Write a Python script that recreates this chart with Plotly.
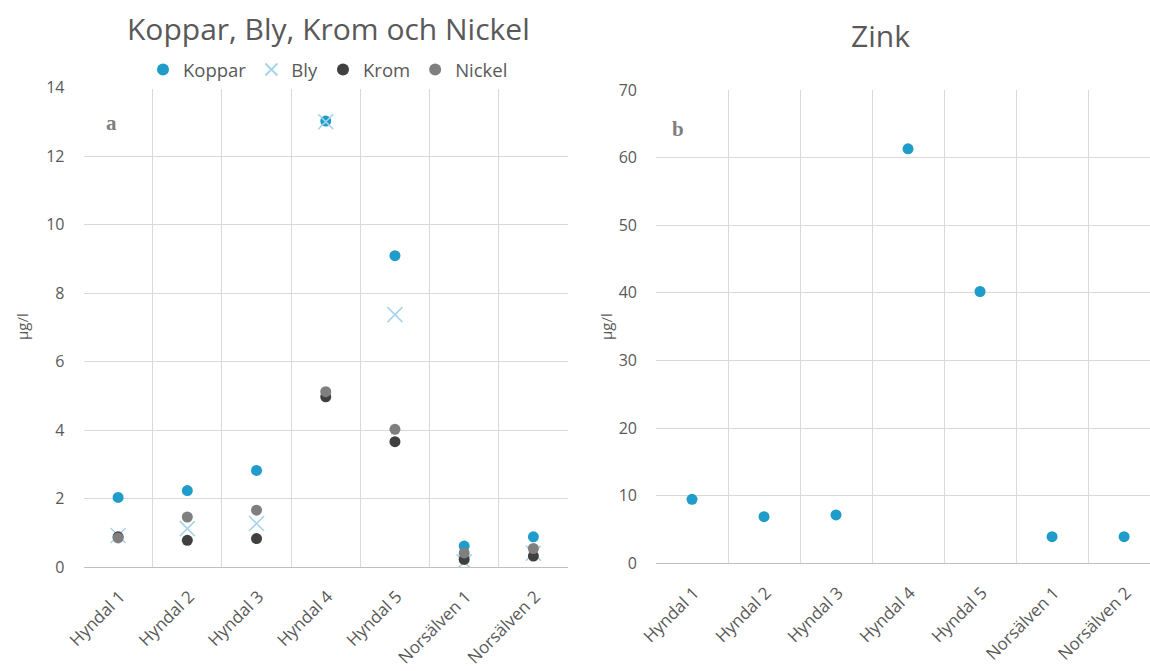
import plotly.graph_objects as go

# Sampling sites
sites = ["Hyndal 1", "Hyndal 2", "Hyndal 3", "Hyndal 4", "Hyndal 5", "Norsälven 1", "Norsälven 2"]

# Metal concentrations, µg/l
koppar = [2.03, 2.23, 2.82, 13.02, 9.09, 0.61, 0.88]
bly = [0.92, 1.12, 1.27, 13.0, 7.37, 0.15, 0.40]
krom = [0.88, 0.78, 0.83, 4.97, 3.66, 0.22, 0.32]
nickel = [0.85, 1.46, 1.66, 5.12, 4.02, 0.41, 0.54]
zink = [9.46, 6.9, 7.15, 61.3, 40.2, 3.94, 3.94]

left_ticks = [0, 2, 4, 6, 8, 10, 12, 14]
right_ticks = [0, 10, 20, 30, 40, 50, 60, 70]

C_KOPPAR = "#1f9cc9"
C_BLY = "#a8d4ea"
C_KROM = "#404040"
C_NICKEL = "#7f7f7f"
TXT = "#595959"
GRID = "#d9d9d9"
FONT = "Open Sans"
W, H = 1150, 671
DOT = 11

fig = go.Figure()

fig.add_trace(go.Scatter(x=sites, y=koppar, mode="markers", name="Koppar",
                         marker=dict(symbol="circle", size=DOT, color=C_KOPPAR),
                         xaxis="x", yaxis="y"))
fig.add_trace(go.Scatter(x=sites, y=bly, mode="markers", name="Bly",
                         marker=dict(symbol="x-thin", size=15, color=C_BLY,
                                     line=dict(color=C_BLY, width=1.6)),
                         xaxis="x", yaxis="y"))
fig.add_trace(go.Scatter(x=sites, y=krom, mode="markers", name="Krom",
                         marker=dict(symbol="circle", size=DOT, color=C_KROM),
                         xaxis="x", yaxis="y"))
fig.add_trace(go.Scatter(x=sites, y=nickel, mode="markers", name="Nickel",
                         marker=dict(symbol="circle", size=DOT, color=C_NICKEL),
                         xaxis="x", yaxis="y"))
fig.add_trace(go.Scatter(x=sites, y=zink, mode="markers", name="Zink",
                         marker=dict(symbol="circle", size=DOT, color=C_KOPPAR),
                         xaxis="x2", yaxis="y2", showlegend=False))

xcommon = dict(type="category", tickson="boundaries", showgrid=True, gridcolor=GRID,
               gridwidth=1, tickangle=-45, ticks="", showline=True, linecolor="#bfbfbf",
               automargin=False, ticklabelstandoff=12, ticklabelshift=2,
               tickfont=dict(family=FONT, size=17, color=TXT), fixedrange=True)
ycommon = dict(showgrid=True, gridcolor=GRID, gridwidth=1, zeroline=False, ticks="",
               showline=False, ticklabelstandoff=18, automargin=False,
               tickfont=dict(family=FONT, size=16, color=TXT))


def px_x(p):
    return p / W


def px_y(p):
    return 1 - p / H


fig.update_layout(
    width=W, height=H,
    margin=dict(l=0, r=0, t=0, b=0, autoexpand=False),
    paper_bgcolor="white", plot_bgcolor="white",
    showlegend=True,
    legend=dict(orientation="h", x=px_x(328), xanchor="center", y=px_y(70), yanchor="middle",
                font=dict(family=FONT, size=18.5, color=TXT), itemwidth=30,
                tracegroupgap=0, itemsizing="constant"),
    xaxis=dict(domain=[px_x(83.5), px_x(568)], anchor="y", range=[-0.5, 6.5], **xcommon),
    yaxis=dict(domain=[px_y(567), px_y(87.5)], anchor="x", range=[0, 14],
               tickvals=left_ticks, **ycommon),
    xaxis2=dict(domain=[px_x(656), 1.0], anchor="y2", range=[-0.5, 6.36], **xcommon),
    yaxis2=dict(domain=[px_y(563.3), px_y(90)], anchor="x2", range=[0, 70],
                tickvals=right_ticks, **ycommon),
    annotations=[
        dict(text="Koppar, Bly, Krom och Nickel", x=px_x(328), y=px_y(29),
             xref="paper", yref="paper", xanchor="center", yanchor="middle",
             showarrow=False, font=dict(family=FONT, size=30, color=TXT)),
        dict(text="Zink", x=px_x(880), y=px_y(36), xref="paper", yref="paper",
             xanchor="center", yanchor="middle",
             showarrow=False, font=dict(family=FONT, size=30, color=TXT)),
        # axis titles, rotated
        dict(text="µg/l", x=px_x(22), y=px_y(327), xref="paper", yref="paper",
             xanchor="center", yanchor="middle", textangle=-90, showarrow=False,
             font=dict(family=FONT, size=15, color=TXT)),
        dict(text="µg/l", x=px_x(606), y=px_y(327), xref="paper", yref="paper",
             xanchor="center", yanchor="middle", textangle=-90, showarrow=False,
             font=dict(family=FONT, size=15, color=TXT)),
        # panel letters
        dict(text="<b>a</b>", x=-0.09, y=12.97, xref="x", yref="y",
             xanchor="center", yanchor="middle", showarrow=False,
             font=dict(family="Liberation Serif", size=21, color="#7f7f7f")),
        dict(text="<b>b</b>", x=-0.19, y=64.3, xref="x2", yref="y2",
             xanchor="center", yanchor="middle", showarrow=False,
             font=dict(family="Liberation Serif", size=21, color="#7f7f7f")),
    ],
)

fig.write_html("out.html")
